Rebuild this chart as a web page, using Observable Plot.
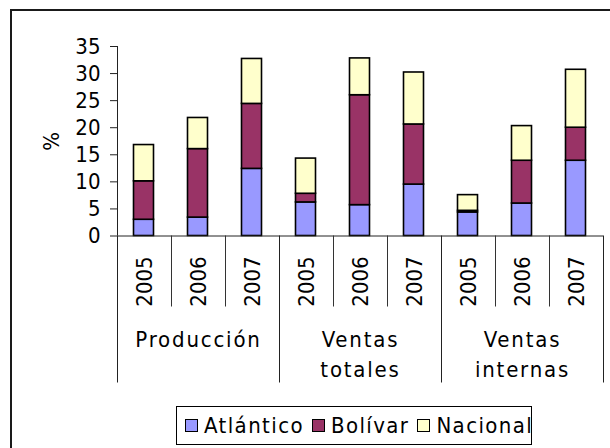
<!DOCTYPE html>
<html>
<head>
<meta charset="utf-8">
<script src="https://cdn.jsdelivr.net/npm/d3@7"></script>
<script src="https://cdn.jsdelivr.net/npm/@observablehq/plot@0.6"></script>
<style>
  html, body { margin: 0; padding: 0; background: #fff; overflow: hidden; }
  #wrap { position: relative; width: 610px; height: 448px; overflow: hidden; }
  #frame { position: absolute; left: 10px; top: 9px; width: 700px; height: 600px; border: 2px solid #1a1a1a; box-sizing: border-box; }
  #chart { position: absolute; left: 0; top: 0; }
  #legend { position: absolute; left: 176px; top: 406px; width: 356px; height: 39px; box-sizing: border-box;
    border: 1px solid #000; background: #fff; display: flex; align-items: center; padding-left: 8px;
    font-family: "DejaVu Sans Condensed", "DejaVu Sans", sans-serif; font-stretch: condensed; font-size: 22px; letter-spacing: 1.4px; color: #000; }
  .item { display: flex; align-items: center; margin-right: 8px; }
  .sw { width: 11px; height: 11px; border: 1.5px solid #000; margin-right: 6px; }
</style>
</head>
<body>
<div id="wrap">
  <div id="frame"></div>
  <div id="chart"></div>
  <div id="legend"></div>
</div>
<script>
// ---- data ----
const groups = ["Producción", "Ventas\ntotales", "Ventas\ninternas"];
const years = ["2005", "2006", "2007"];
const seriesNames = ["Atlántico", "Bolívar", "Nacional"];
const seriesColors = ["#9999FF", "#993366", "#FFFFCC"];
const atlantico = [3.0, 3.4, 12.4, 6.2, 5.7, 9.5, 4.35, 6.0, 13.9];
const bolivar   = [7.1, 12.65, 12.0, 1.6, 20.3, 11.1, 0.3, 7.9, 6.1];
const nacional  = [6.7, 5.75, 8.3, 6.5, 6.8, 9.6, 2.9, 6.4, 10.7];
const yTicks = [0, 5, 10, 15, 20, 25, 30, 35];

// ---- derived tables ----
const cats = [];
groups.forEach((g, gi) => years.forEach((y, yi) => cats.push({i: gi * years.length + yi, group: g, year: y})));
const seriesValues = [atlantico, bolivar, nacional];
const rows = [];
seriesNames.forEach((s, si) => cats.forEach((c, ci) => rows.push({i: c.i, i2: c.i + 1, series: s, value: seriesValues[si][ci]})));
const groupRows = groups.map((g, gi) => ({label: g, center: gi * years.length + years.length / 2}));
const n = cats.length;
const yearBounds = d3.range(0, n + 1).filter(k => k % years.length !== 0);
const groupBounds = d3.range(0, n + 1, years.length);

const FONT = "DejaVu Sans Condensed";
const plot = Plot.plot({
  width: 610,
  height: 448,
  marginLeft: 117,
  marginRight: 7,
  marginTop: 46,
  marginBottom: 212.5,
  style: {fontFamily: FONT, fontSize: "22px", background: "transparent", overflow: "visible"},
  x: {type: "linear", domain: [0, n], axis: null},
  y: {domain: [0, 35], axis: null},
  color: {domain: seriesNames, range: seriesColors},
  marks: [
    Plot.rectY(rows, Plot.stackY({x1: "i", x2: "i2", y: "value", fill: "series", stroke: "#000", strokeWidth: 1.6, insetLeft: 16.5, insetRight: 17.5})),
    Plot.axisY({ticks: yTicks, tickSize: 7, tickPadding: 10, fontSize: 22, fontFamily: FONT, stroke: "#222", label: "%", labelAnchor: "center", labelArrow: "none", labelOffset: 74}),
    Plot.ruleX([0], {stroke: "#222", strokeWidth: 1}),
    Plot.ruleY([0], {stroke: "#222", strokeWidth: 1}),
    Plot.ruleX(yearBounds, {x: d => d, y1: 0, y2: 0, insetBottom: -71, stroke: "#333", strokeWidth: 1}),
    Plot.ruleX(groupBounds, {x: d => d, y1: 0, y2: 0, insetBottom: -147, stroke: "#222", strokeWidth: 1}),
    Plot.text(cats, {x: d => d.i + 0.5, y: 0, dy: 45.5, text: "year", rotate: -90, textAnchor: "middle", lineAnchor: "middle", fontSize: 22, fontFamily: FONT, fill: "#000"}),
    Plot.text(groupRows, {x: "center", y: 0, dy: 90, text: "label", lineAnchor: "top", lineHeight: 1.36, fontSize: 22, fontFamily: FONT, fill: "#000"})
  ]
});
// widen the letter spacing of the group labels (last text mark)
const textGroups = plot.querySelectorAll('g[aria-label="text"]');
const lastText = textGroups[textGroups.length - 1];
if (lastText) {
  lastText.setAttribute("letter-spacing", "1.8");
  lastText.querySelectorAll("text, tspan").forEach(el => el.style.letterSpacing = "1.8px");
}
document.getElementById("chart").appendChild(plot);

// legend
const legend = document.getElementById("legend");
seriesNames.forEach((s, i) => {
  const item = document.createElement("div");
  item.className = "item";
  const sw = document.createElement("div");
  sw.className = "sw";
  sw.style.background = seriesColors[i];
  const t = document.createElement("span");
  t.textContent = s;
  item.appendChild(sw);
  item.appendChild(t);
  legend.appendChild(item);
});
</script>
</body>
</html>
